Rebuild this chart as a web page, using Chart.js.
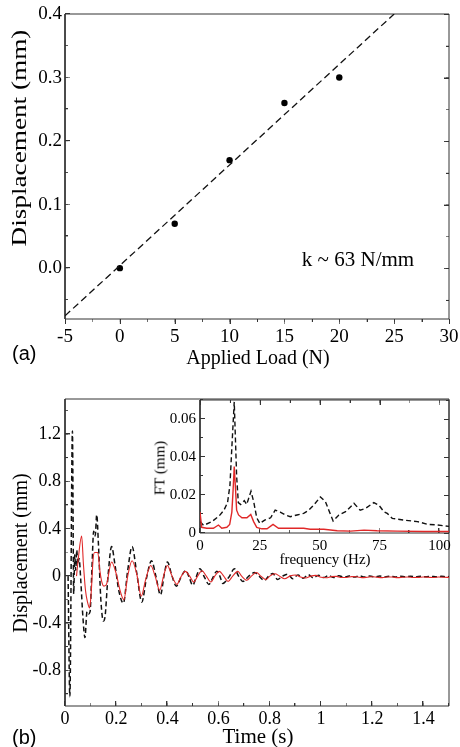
<!DOCTYPE html>
<html>
<head>
<meta charset="utf-8">
<script src="https://cdn.jsdelivr.net/npm/chart.js@4.4.0/dist/chart.umd.min.js"></script>
<style>
body{margin:0;background:#fff;font-family:"Liberation Serif",serif;color:#000}
canvas{position:absolute}
.lbl{position:absolute;white-space:nowrap;line-height:1;transform:translate(-50%,-50%)}
.tag{position:absolute;font-family:"Liberation Sans",Arial,sans-serif;font-size:20px;line-height:1}
</style>
</head>
<body>
<canvas id="chartA" width="460" height="380" style="left:0;top:0"></canvas>
<canvas id="chartB" width="460" height="367" style="left:0;top:380px"></canvas>
<canvas id="chartF" width="310" height="180" style="left:150px;top:395px"></canvas>

<div class="lbl" style="left:19px;top:138px;font-size:20px;transform:translate(-50%,-50%) rotate(-90deg) scaleX(1.36)">Displacement (mm)</div>
<div class="lbl" style="left:258px;top:357px;font-size:20px">Applied Load (N)</div>
<div class="lbl" style="left:358px;top:259px;font-size:21px">k ~ 63 N/mm</div>
<div class="tag" style="left:12px;top:343px">(a)</div>

<div class="lbl" style="left:20px;top:553px;font-size:20px;transform:translate(-50%,-50%) rotate(-90deg)">Displacement (mm)</div>
<div class="lbl" style="left:258px;top:736px;font-size:21px">Time (s)</div>
<div class="tag" style="left:12px;top:727px">(b)</div>

<div class="lbl" style="left:160px;top:468px;font-size:15px;transform:translate(-50%,-50%) rotate(-90deg)">FT (mm)</div>
<div class="lbl" style="left:325px;top:559px;font-size:15px">frequency (Hz)</div>
<script>
// (a) load test
const aLoad = [0, 5, 10, 15, 20];
const aDisp = [0.0, 0.07, 0.17, 0.26, 0.30];
const aFitLoad = [-5, 25];
const aFitDisp = [-0.075, 0.40];
const aXTicks = [-5, 0, 5, 10, 15, 20, 25, 30];
const aYTicks = [0.0, 0.1, 0.2, 0.3, 0.4];

// (b) time response, black dashed
const bTime = [
  0.012,0.019,0.029,0.034,0.038,0.042,0.046,0.050,0.055,0.062,
  0.070,0.078,0.086,0.092,0.098,0.105,0.112,0.118,0.124,0.130,
  0.140,0.150,0.156,0.168,0.182,0.195,0.210,0.228,0.245,0.262,
  0.280,0.300,0.318,0.338,0.355,0.373,0.388,0.400,0.418,0.435,
  0.455,0.472,0.485,0.499,0.512,0.527,0.545,0.562,0.578,0.593,
  0.605,0.616,0.640,0.662,0.678,0.695,0.718,0.740,0.758,0.779,
  0.795,0.812,0.830,0.850,0.870,0.890,0.910,0.930,0.950,0.970,
  0.990,1.010,1.030,1.050,1.070,1.090,1.110,1.130,1.150,1.170,
  1.190,1.210,1.230,1.250,1.270,1.290,1.310,1.330,1.350,1.370,
  1.390,1.410,1.430,1.450,1.470,1.490,1.500];
const bDashed = [
  0.00,-1.02,1.23,-0.15,0.18,0.05,0.22,0.10,0.15,-0.05,
  -0.35,-0.52,-0.30,-0.32,-0.30,0.05,0.38,0.34,0.52,0.30,
  -0.20,-0.38,-0.35,0.00,0.25,0.10,-0.12,-0.23,0.05,0.25,
  0.03,-0.22,-0.02,0.13,0.00,-0.16,0.02,0.12,0.00,-0.085,
  0.00,0.048,-0.01,-0.079,-0.01,0.062,-0.01,-0.07,-0.01,0.042,
  0.00,-0.062,-0.01,0.062,0.00,-0.045,0.00,0.030,0.00,-0.037,
  0.00,0.022,-0.028,0.00,0.016,-0.022,0.010,-0.018,0.012,-0.015,
  0.008,-0.012,0.005,-0.012,0.004,-0.010,0.002,-0.008,0.002,-0.008,
  0.000,-0.007,0.000,-0.007,-0.001,-0.007,-0.001,-0.006,-0.001,-0.006,
  -0.002,-0.006,-0.002,-0.006,-0.002,-0.005,-0.004];

// (b) time response, red solid
const rTime = [
  0.045,0.052,0.065,0.072,0.080,0.088,0.096,0.102,0.110,0.116,
  0.128,0.136,0.145,0.152,0.162,0.182,0.200,0.215,0.230,0.245,
  0.262,0.280,0.298,0.315,0.335,0.352,0.370,0.385,0.400,0.418,
  0.437,0.452,0.470,0.487,0.503,0.518,0.535,0.552,0.570,0.585,
  0.603,0.620,0.637,0.655,0.675,0.690,0.710,0.728,0.748,0.765,
  0.785,0.800,0.820,0.838,0.858,0.880,0.900,0.920,0.940,0.960,
  0.980,1.000,1.020,1.040,1.060,1.080,1.100,1.120,1.140,1.160,
  1.180,1.200,1.220,1.240,1.260,1.280,1.300,1.320,1.340,1.360,
  1.380,1.400,1.420,1.440,1.460,1.480,1.500];
const rSolid = [
  0.00,0.15,0.34,0.10,-0.12,-0.22,-0.27,-0.15,0.15,0.20,
  0.20,0.05,-0.06,-0.085,-0.07,0.12,0.02,-0.12,-0.20,0.00,
  0.13,0.02,-0.17,-0.03,0.09,0.00,-0.12,0.00,0.09,0.00,
  -0.07,-0.01,0.04,0.00,-0.05,0.00,0.045,0.00,-0.05,0.00,
  0.04,0.00,-0.045,0.00,0.04,0.00,-0.035,0.00,0.03,0.00,
  -0.03,0.00,0.02,0.00,-0.022,0.002,0.010,-0.008,-0.016,0.000,
  0.006,-0.010,-0.014,-0.004,-0.002,-0.012,-0.012,-0.004,-0.006,-0.013,
  -0.010,-0.005,-0.010,-0.013,-0.007,-0.008,-0.013,-0.009,-0.007,-0.012,
  -0.011,-0.007,-0.010,-0.012,-0.008,-0.010,-0.011];
const bXTicks = [0, 0.2, 0.4, 0.6, 0.8, 1, 1.2, 1.4];
const bYTicks = [-0.8, -0.4, 0, 0.4, 0.8, 1.2];

// inset: Fourier transform
const fFreqK = [0,1.5,5,8,10,11.5,12.5,13.3,14.3,15.3,
  16,17,18.5,19.5,21.3,22.5,23.7,25,27,29.5,
  31.4,33.5,35.6,37.7,40.5,43.3,45.4,47.5,50.3,52.4,
  53.8,55.6,58,60.8,64.3,66.9,69.2,72.6,74.7,76.8,
  78.2,80.3,85.2,90.8,95,99.2,104];
const fDashed = [0.006,0.004,0.006,0.009,0.012,0.016,0.025,0.045,0.069,0.030,
  0.016,0.015,0.017,0.015,0.022,0.016,0.008,0.005,0.0068,0.008,
  0.012,0.011,0.0095,0.0086,0.0095,0.0103,0.012,0.0147,0.019,0.0165,
  0.012,0.0063,0.0095,0.0112,0.0156,0.012,0.013,0.016,0.0147,0.0112,
  0.0103,0.0077,0.0068,0.006,0.0046,0.0042,0.0035];
const fFreqR = [0,0.7,2.8,5.6,7.7,9.1,11.2,12.4,13.3,13.8,
  14.3,14.8,15.3,16.1,17.5,19.6,21.2,22.4,23.7,25.8,
  28,30.5,32.8,37.7,43.3,46,51.7,57.3,62.9,68.5,
  74,82.4,93.6,104];
const fSolid = [0.011,0.003,0.0025,0.0025,0.0042,0.0025,0.003,0.0045,0.011,0.022,
  0.035,0.024,0.012,0.0095,0.008,0.008,0.0098,0.006,0.003,0.0022,
  0.0022,0.0045,0.0025,0.0025,0.0025,0.002,0.002,0.0012,0.001,0.0015,
  0.0012,0.001,0.0008,0.0008];
const fXTicks = [0, 25, 50, 75, 100];
const fYTicks = [0, 0.02, 0.04, 0.06];

const RED = '#e02828';
const INK = '#111';
const AXIS = '#333';

function pts(xs, ys) {
  return xs.map((x, i) => ({x: x, y: ys[i]}));
}

// positions of the small (minor) tick marks
function steps(from, to, step) {
  const out = [];
  for (let i = 0; from + i * step <= to + 1e-9; i++) out.push(+(from + i * step).toFixed(6));
  return out;
}

// plot frame as a closed line through the axis limits
function boxSet(x0, x1, y0, y1) {
  return {
    data: [{x: x0, y: y0}, {x: x1, y: y0}, {x: x1, y: y1}, {x: x0, y: y1}, {x: x0, y: y0}],
    showLine: true, borderColor: AXIS, borderWidth: 1, pointRadius: 0, clip: false
  };
}

// one-sided tick marker: a short stroke from the centre of a small image
const tickImages = {};
function tickImage(len) {
  if (!tickImages[len]) {
    const c = document.createElement('canvas');
    c.width = 2 * len;
    c.height = 2;
    const g = c.getContext('2d');
    g.fillStyle = AXIS;
    g.fillRect(len, 0, len, 1);
    tickImages[len] = c;
  }
  return tickImages[len];
}

// rotation turns the stroke towards (in) or away from (out) the plot
const TURN = {
  bottom: {in: -90, out: 90},
  top: {in: 90, out: -90},
  left: {in: 0, out: 180},
  right: {in: 180, out: 0}
};

function tickSet(values, side, at, len, dir) {
  const horizontal = side === 'bottom' || side === 'top';
  return {
    data: values.map(v => horizontal ? {x: v, y: at} : {x: at, y: v}),
    showLine: false, clip: false,
    pointStyle: tickImage(len), pointRotation: TURN[side][dir],
    pointRadius: len, pointBorderWidth: 0
  };
}

function axis(min, max, ticks, fmt, size, pad, boxSize, horizontal) {
  return {
    type: 'linear', min: min, max: max,
    afterBuildTicks: s => { s.ticks = ticks.map(v => ({value: v})); },
    afterFit: s => {
      if (horizontal) { s.height = boxSize; s.paddingLeft = 0; s.paddingRight = 0; }
      else { s.width = boxSize; s.paddingTop = 0; s.paddingBottom = 0; }
    },
    grid: {display: false, drawTicks: false},
    border: {display: false},
    ticks: {
      padding: pad, color: '#000', autoSkip: false, maxRotation: 0,
      font: {family: 'Liberation Serif', size: size},
      callback: fmt
    }
  };
}

const quiet = () => ({legend: {display: false}, tooltip: {enabled: false}});

// (a)
new Chart(document.getElementById('chartA'), {
  type: 'scatter',
  data: {
    datasets: [
      {data: pts(aFitLoad, aFitDisp), showLine: true, borderColor: INK, borderWidth: 1.3,
       borderDash: [7, 4], pointRadius: 0},
      {data: pts(aLoad, aDisp), pointRadius: 3.2, backgroundColor: '#000', borderWidth: 0},
      boxSet(-5, 30, -0.08, 0.4),
      tickSet(aXTicks, 'bottom', -0.08, 5, 'out'),
      tickSet(steps(-5, 30, 2.5), 'bottom', -0.08, 3, 'out'),
      tickSet(aYTicks, 'left', -5, 5, 'in'),
      tickSet(steps(-0.05, 0.4, 0.05), 'left', -5, 3, 'in'),
      tickSet(aYTicks, 'right', 30, 5, 'in'),
      tickSet(steps(-0.05, 0.4, 0.05), 'right', 30, 3, 'in')
    ]
  },
  options: {
    responsive: false, animation: false, events: [],
    layout: {padding: {top: 14, right: 11}},
    plugins: quiet(),
    scales: {
      x: axis(-5, 30, aXTicks, v => String(v), 19, 7, 61, true),
      y: axis(-0.08, 0.4, aYTicks, v => v.toFixed(1), 19, 3, 65, false)
    }
  }
});

// (b)
new Chart(document.getElementById('chartB'), {
  type: 'scatter',
  data: {
    datasets: [
      {data: pts(rTime, rSolid), showLine: true, borderColor: RED, borderWidth: 1.1,
       pointRadius: 0, cubicInterpolationMode: 'monotone'},
      {data: pts(bTime, bDashed), showLine: true, borderColor: INK, borderWidth: 1.5,
       borderDash: [5, 3], pointRadius: 0, cubicInterpolationMode: 'monotone'},
      boxSet(0, 1.5, -1.1, 1.5),
      tickSet(bXTicks, 'bottom', -1.1, 5, 'in'),
      tickSet(steps(0, 1.5, 0.1), 'bottom', -1.1, 3, 'in'),
      tickSet(bYTicks, 'left', 0, 5, 'in'),
      tickSet(steps(-1.0, 1.4, 0.2), 'left', 0, 3, 'in')
    ]
  },
  options: {
    responsive: false, animation: false, events: [],
    layout: {padding: {top: 19, right: 11}},
    plugins: quiet(),
    scales: {
      x: axis(0, 1.5, bXTicks, v => String(Number(v.toFixed(1))), 18, 2, 41, true),
      y: axis(-1.1, 1.5, bYTicks, v => String(Number(v.toFixed(1))), 18, 4, 65, false)
    }
  }
});

// inset
new Chart(document.getElementById('chartF'), {
  type: 'scatter',
  data: {
    datasets: [
      {data: pts(fFreqR, fSolid), showLine: true, borderColor: RED, borderWidth: 1.4, pointRadius: 0},
      {data: pts(fFreqK, fDashed), showLine: true, borderColor: INK, borderWidth: 1.4,
       borderDash: [5, 3], pointRadius: 0},
      boxSet(0, 104, 0, 0.07),
      tickSet(fXTicks, 'bottom', 0, 5, 'in'),
      tickSet(steps(0, 100, 12.5), 'bottom', 0, 3, 'in'),
      tickSet(fXTicks, 'top', 0.07, 5, 'in'),
      tickSet(steps(0, 100, 12.5), 'top', 0.07, 3, 'in'),
      tickSet(fYTicks, 'left', 0, 5, 'in'),
      tickSet(steps(0, 0.07, 0.01), 'left', 0, 3, 'in'),
      tickSet(fYTicks, 'right', 104, 5, 'in'),
      tickSet(steps(0, 0.07, 0.01), 'right', 104, 3, 'in')
    ]
  },
  options: {
    responsive: false, animation: false, events: [],
    layout: {padding: {top: 4, right: 11}},
    plugins: quiet(),
    scales: {
      x: axis(0, 104, fXTicks, v => String(v), 15, 4, 42, true),
      y: axis(0, 0.07, fYTicks, v => v === 0 ? '0' : v.toFixed(2), 15, 4, 50, false)
    }
  }
});
</script>
</body>
</html>
